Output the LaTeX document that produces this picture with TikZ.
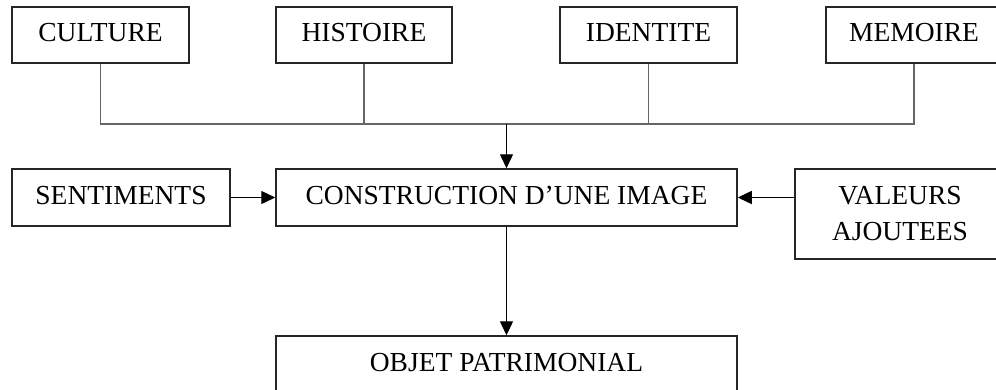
\documentclass[tikz,border=0pt]{standalone}
\usepackage{fontspec}
\setmainfont{Liberation Serif}
\usetikzlibrary{arrows.meta}
\begin{document}
\begin{tikzpicture}[x=1pt,y=-1pt,
  box/.style={draw=black!85, line width=1.5pt, rectangle, inner sep=0pt,
    minimum height=56pt, font=\fontsize{27.5}{36}\selectfont,
    text height=18.2pt, text depth=5pt},
  twobox/.style={draw=black!85, line width=1.5pt, rectangle, inner sep=0pt,
    align=center, font=\fontsize{27.5}{36}\selectfont},
  bus/.style={draw=black!60, line width=1.6pt},
  arr/.style={draw=black, line width=1.4pt, -{Triangle[length=14pt,width=13pt]}}]
\useasboundingbox (0,0) rectangle (996,389);
\clip (0,0) rectangle (996,389);
\fill[white] (0,0) rectangle (996,389);
% top row
\node[box, minimum width=177pt] (cul) at (100.5,35) {CULTURE};
\node[box, minimum width=176pt] (his) at (364,35) {HISTOIRE};
\node[box, minimum width=177pt] (ide) at (648.5,35) {IDENTITE};
\node[box, minimum width=176pt] (mem) at (914,35) {MEMOIRE};
% middle row
\node[box, minimum width=218pt, minimum height=57pt] (sen) at (121,197.5) {SENTIMENTS};
\node[box, minimum width=461pt, minimum height=57pt] (con) at (506.5,197.5) {CONSTRUCTION D’UNE IMAGE};
\node[twobox, minimum width=210pt, minimum height=90pt] (val) at (900,214) {VALEURS\\AJOUTEES};
% bottom
\node[box, minimum width=461pt, minimum height=57pt] (obj) at (506.5,364.5) {OBJET PATRIMONIAL};
% bus
\coordinate (jn) at (con.north |- 0,124);
\draw[bus] (cul.south) -- (cul.south |- 0,124) -| (mem.south);
\draw[bus] (his.south) -- (his.south |- 0,124);
\draw[bus] (ide.south) -- (ide.south |- 0,124);
% arrows
\draw[arr] (jn) -- (con.north);
\draw[arr] (sen.east) -- (con.west);
\draw[arr] (val.west |- con.east) -- (con.east);
\draw[arr] (con.south) -- (obj.north);
\end{tikzpicture}
\end{document}
